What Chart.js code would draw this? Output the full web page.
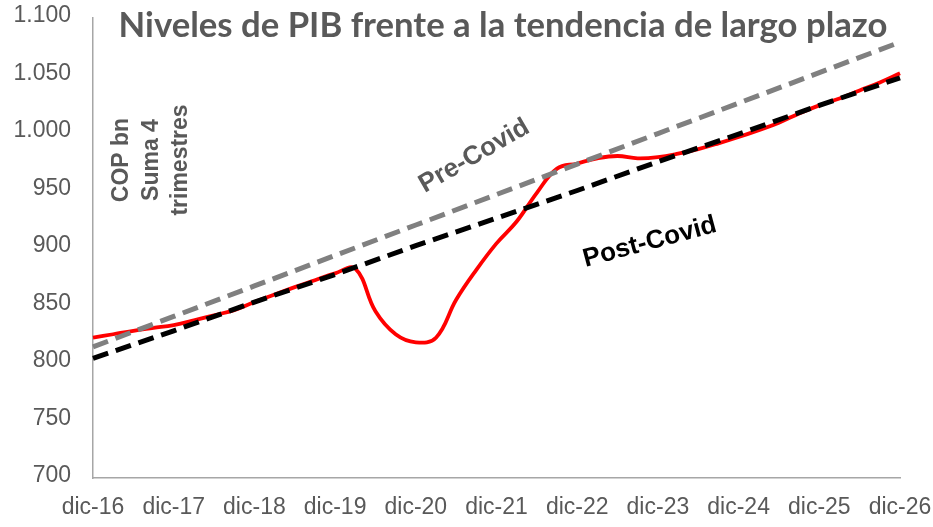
<!DOCTYPE html>
<html>
<head>
<meta charset="utf-8">
<script src="https://cdn.jsdelivr.net/npm/chart.js@4/dist/chart.umd.min.js"></script>
<style>
  html, body { margin: 0; padding: 0; background: #fff; }
  #wrap { width: 933px; height: 527px; }
</style>
</head>
<body>
<div id="wrap"><canvas id="pibChart" width="933" height="527"></canvas></div>
<script>
// Trimestres (dic-16 a dic-26)
const anios = ['16', '17', '18', '19', '20', '21', '22', '23', '24', '25', '26'];
const meses = ['mar', 'jun', 'sep', 'dic'];

// PIB suma 4 trimestres, COP bn
const pibObservado = [
  822, 825, 828, 830.5,
  833, 837, 841.5, 846,
  853, 859.5, 866, 872,
  878, 882, 845, 825,
  818, 822, 855, 881,
  904, 923, 948, 969,
  973.5, 978, 980, 978,
  979, 982, 986, 991,
  996.5, 1002.5, 1009, 1017,
  1024, 1030, 1037, 1044,
  1052
];

// Tendencias de largo plazo, valor en cada diciembre
const tendenciaPre = [814, 840.5, 867, 893.5, 920, 946.5, 973, 999.5, 1026, 1052.5, 1079];
const tendenciaPost = [804, 828, 853, 877, 902, 926, 950, 975, 999, 1024, 1048];

const yTicks = [700, 750, 800, 850, 900, 950, 1000, 1050, 1100];

// etiquetas trimestrales
const etiquetas = ['dic-' + anios[0]];
for (let i = 1; i < anios.length; i++) {
  meses.forEach(m => etiquetas.push(m + '-' + anios[i]));
}

// las tendencias solo tienen dato en diciembre, el resto va en null
function enDiciembres(valores) {
  return etiquetas.map(lab => lab.startsWith('dic') ? valores[anios.indexOf(lab.slice(4))] : null);
}

function formatoMiles(v) {
  if (v >= 1000) return Math.floor(v / 1000) + '.' + String(v % 1000).padStart(3, '0');
  return String(v);
}

const gris = '#595959';

// titulo y anotaciones
const textosPlugin = {
  id: 'textos',
  afterDraw(chart) {
    const ctx = chart.ctx;
    const xs = chart.scales.x;
    const ys = chart.scales.y;
    ctx.save();

    // titulo
    const titulo = 'Niveles de PIB frente a la tendencia de largo plazo';
    let size = 31;
    ctx.font = 'bold ' + size + 'px Lato';
    const w = ctx.measureText(titulo).width;
    size = size * 769 / w;
    ctx.font = 'bold ' + size.toFixed(2) + 'px Lato';
    ctx.fillStyle = gris;
    ctx.textAlign = 'center';
    ctx.textBaseline = 'alphabetic';
    ctx.fillText(titulo, 503, 37);

    // unidades, texto vertical
    ctx.font = 'bold 23px "Liberation Sans", Arial, sans-serif';
    ctx.textBaseline = 'middle';
    const unidades = ['COP bn', 'Suma 4', 'trimestres'];
    unidades.forEach((t, i) => {
      ctx.save();
      ctx.translate(122 + i * 29.5, 160);
      ctx.rotate(-Math.PI / 2);
      ctx.fillText(t, 0, 0);
      ctx.restore();
    });

    // Pre-Covid
    ctx.save();
    ctx.font = 'bold 26px "Liberation Sans", Arial, sans-serif';
    ctx.fillStyle = gris;
    ctx.translate(xs.getPixelForValue(18.9), ys.getPixelForValue(980));
    ctx.rotate(-30 * Math.PI / 180);
    ctx.fillText('Pre-Covid', 0, 0);
    ctx.restore();

    // Post-Covid
    ctx.save();
    ctx.font = 'bold 26px "Liberation Sans", Arial, sans-serif';
    ctx.fillStyle = '#000000';
    ctx.translate(xs.getPixelForValue(27.6), ys.getPixelForValue(905));
    ctx.rotate(-15 * Math.PI / 180);
    ctx.fillText('Post-Covid', 0, 0);
    ctx.restore();

    ctx.restore();
  }
};

const ctx = document.getElementById('pibChart').getContext('2d');
new Chart(ctx, {
  type: 'line',
  data: {
    labels: etiquetas,
    datasets: [
      {
        label: 'Pre-Covid',
        data: enDiciembres(tendenciaPre),
        borderColor: '#808080',
        borderWidth: 5,
        borderDash: [16, 8],
        pointRadius: 0,
        spanGaps: true,
        tension: 0
      },
      {
        label: 'Post-Covid',
        data: enDiciembres(tendenciaPost),
        borderColor: '#000000',
        borderWidth: 5,
        borderDash: [16, 8],
        pointRadius: 0,
        spanGaps: true,
        tension: 0
      },
      {
        label: 'PIB',
        data: pibObservado,
        borderColor: '#ff0000',
        borderWidth: 3.8,
        pointRadius: 0,
        tension: 0.4
      }
    ]
  },
  options: {
    responsive: false,
    animation: false,
    devicePixelRatio: 1,
    layout: { padding: { left: 0, right: 33, top: 18, bottom: 0 } },
    plugins: {
      legend: { display: false },
      tooltip: { enabled: false },
      title: { display: false }
    },
    scales: {
      x: {
        offset: false,
        grid: { display: false, drawTicks: false },
        border: { display: true, color: '#a6a6a6', width: 1.5 },
        ticks: {
          autoSkip: false,
          maxRotation: 0,
          padding: 16,
          color: gris,
          font: { family: '"Liberation Sans", Arial, sans-serif', size: 23 },
          callback: function(value) {
            const lab = this.getLabelForValue(value);
            return lab.startsWith('dic') ? lab : '';
          }
        },
        // tamaño fijo y sin margen extra por las etiquetas de los extremos
        afterFit: function(scale) {
          scale.height = 49;
          scale.paddingLeft = 0;
          scale.paddingRight = 0;
        }
      },
      y: {
        min: yTicks[0],
        max: yTicks[yTicks.length - 1],
        grid: { display: false, drawTicks: false },
        border: { display: true, color: '#a6a6a6', width: 1.5 },
        afterBuildTicks: function(scale) { scale.ticks = yTicks.map(v => ({ value: v })); },
        ticks: {
          padding: 22,
          labelOffset: -2,
          color: gris,
          font: { family: '"Liberation Sans", Arial, sans-serif', size: 23 },
          callback: v => formatoMiles(v)
        },
        afterFit: function(scale) {
          scale.width = 93;
          scale.paddingTop = 0;
          scale.paddingBottom = 0;
        }
      }
    }
  },
  plugins: [textosPlugin]
});
</script>
</body>
</html>
